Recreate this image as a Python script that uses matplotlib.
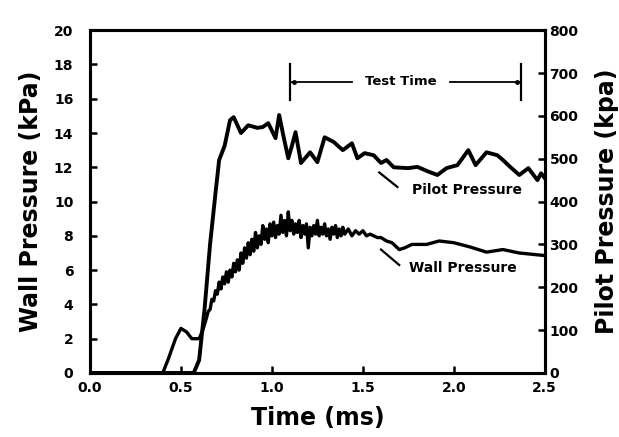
#!/usr/bin/env python3
# Wall and pitot pressure traces vs time, with the test-time window marked.
import matplotlib
matplotlib.use("Agg")
import matplotlib.pyplot as plt

# Wall pressure trace (kPa); the 0.64-1.60 ms part is the noisy band
wall_t = [0.00, 0.40, 0.43, 0.47, 0.50, 0.53, 0.56, 0.60, 0.62,
          0.64, 0.65, 0.66, 0.67, 0.68, 0.69, 0.70, 0.71, 0.72, 0.73, 0.74,
          0.75, 0.76, 0.77, 0.78, 0.79, 0.80, 0.81, 0.82, 0.83, 0.84,
          0.85, 0.86, 0.87, 0.88, 0.89, 0.90, 0.91, 0.92, 0.93, 0.94,
          0.95, 0.96, 0.97, 0.98, 0.99, 1.00, 1.01, 1.02, 1.03, 1.04,
          1.05, 1.06, 1.07, 1.08, 1.09, 1.10, 1.11, 1.12, 1.13, 1.14,
          1.15, 1.16, 1.17, 1.18, 1.19, 1.20, 1.21, 1.22, 1.23, 1.24,
          1.25, 1.26, 1.27, 1.28, 1.29, 1.30, 1.31, 1.32, 1.33, 1.34,
          1.35, 1.36, 1.37, 1.38, 1.39, 1.40, 1.42, 1.44, 1.46, 1.48,
          1.50, 1.52, 1.54, 1.56, 1.58, 1.60,
          1.63, 1.66, 1.70, 1.73, 1.77, 1.85, 1.92, 2.00, 2.09, 2.18,
          2.27, 2.36, 2.50]
wall_p = [0.0, 0.0, 0.8, 2.0, 2.6, 2.4, 2.0, 2.0, 2.5,
          3.2, 3.6, 3.7, 4.3, 4.2, 4.8, 4.6, 5.3, 4.9, 5.6, 5.2,
          5.9, 5.3, 6.0, 5.6, 6.4, 5.9, 6.6, 6.0, 7.0, 6.4,
          7.3, 6.7, 7.6, 6.9, 7.8, 7.1, 8.2, 7.3, 8.0, 7.5,
          8.6, 7.8, 8.4, 7.6, 8.7, 8.0, 8.8, 7.9, 8.6, 8.1,
          9.2, 8.2, 8.9, 8.0, 9.4, 8.3, 8.9, 8.1, 8.7, 8.2,
          8.9, 7.9, 8.6, 8.1, 8.7, 7.3, 8.5, 8.0, 8.6, 8.1,
          8.9, 8.0, 8.5, 8.1, 8.7, 8.0, 8.4, 7.8, 8.5, 8.1,
          8.6, 7.9, 8.4, 8.0, 8.5, 8.1, 8.4, 8.0, 8.3, 8.1,
          8.3, 8.0, 8.1, 8.0, 7.9, 7.9,
          7.7, 7.6, 7.2, 7.3, 7.5, 7.5, 7.7, 7.6, 7.35, 7.05,
          7.2, 7.0, 6.85]

# Pitot pressure trace (kPa, right axis)
pilot_t = [0.00, 0.57, 0.60, 0.63, 0.66, 0.69, 0.71, 0.74, 0.77, 0.79, 0.83, 0.87,
           0.92, 0.95, 0.98, 1.02, 1.04, 1.06, 1.09, 1.11, 1.13, 1.16, 1.21, 1.25,
           1.29, 1.34, 1.39, 1.44, 1.47, 1.51, 1.56, 1.60, 1.63, 1.67, 1.75, 1.80,
           1.86, 1.91, 1.96, 2.02, 2.08, 2.12, 2.18, 2.24, 2.27, 2.31, 2.36, 2.41,
           2.46, 2.48, 2.50]
pilot_p = [0, 0, 30, 150, 300, 420, 497, 530, 590, 597, 560, 578,
           572, 574, 583, 548, 602, 560, 501, 530, 562, 490, 515, 492,
           550, 539, 520, 536, 501, 513, 508, 490, 497, 480, 478, 481,
           470, 462, 478, 485, 520, 485, 515, 508, 497, 481, 462, 478,
           450, 466, 455]

x_ticks = [0.0, 0.5, 1.0, 1.5, 2.0, 2.5]
wall_ticks = list(range(0, 21, 2))
pilot_ticks = list(range(0, 801, 100))
test_window = [1.10, 2.37]

plt.rcParams["font.family"] = "DejaVu Sans"
plt.rcParams["font.weight"] = "bold"

fig = plt.figure(figsize=(6.19, 4.37), dpi=100)
ax = fig.add_axes([0.1454, 0.1465, 0.7346, 0.7845])
ax2 = ax.twinx()

ax.plot(wall_t, wall_p, color="black", linewidth=2.4, solid_joinstyle="round")
ax2.plot(pilot_t, pilot_p, color="black", linewidth=2.8, solid_joinstyle="round")

ax.set_xlim(0, 2.5)
ax.set_ylim(0, 20)
ax2.set_ylim(0, 800)
ax.set_xticks(x_ticks)
ax.set_xticklabels([f"{v:.1f}" for v in x_ticks])
ax.set_yticks(wall_ticks)
ax2.set_yticks(pilot_ticks)

for a in (ax, ax2):
    for s in a.spines.values():
        s.set_linewidth(2.2)
    a.tick_params(direction="in", length=5, width=1.8, labelsize=10)
ax.tick_params(axis="x", pad=6)
ax.tick_params(axis="y", pad=12)

ax.set_xlabel("Time (ms)", fontsize=17, fontweight="bold", labelpad=8)
ax.set_ylabel("Wall Pressure (kPa)", fontsize=17, fontweight="bold", labelpad=8)
ax2.set_ylabel("Pilot Pressure (kpa)", fontsize=17, fontweight="bold", labelpad=12)

# test-time window marker
y_tt = 17.0
for t in test_window:
    ax.plot([t, t], [15.9, 18.0], color="black", linewidth=1.6)
ax.plot([test_window[0], 1.44], [y_tt, y_tt], color="black", linewidth=1.3)
ax.plot([1.98, test_window[1]], [y_tt, y_tt], color="black", linewidth=1.3)
ax.plot([test_window[0] + 0.02, test_window[1] - 0.02], [y_tt, y_tt], "o",
        color="black", markersize=2.5)
ax.text(1.71, y_tt, "Test Time", ha="center", va="center", fontsize=9.5,
        fontweight="bold")

# trace labels with leader lines
ax.plot([1.59, 1.69], [11.7, 10.85], color="black", linewidth=1.6)
ax.text(2.07, 10.7, "Pilot Pressure", ha="center", va="center", fontsize=10,
        fontweight="bold")
ax.plot([1.60, 1.70], [7.2, 6.3], color="black", linewidth=1.6)
ax.text(2.05, 6.1, "Wall Pressure", ha="center", va="center", fontsize=10,
        fontweight="bold")

fig.savefig("out.png", dpi=100)
